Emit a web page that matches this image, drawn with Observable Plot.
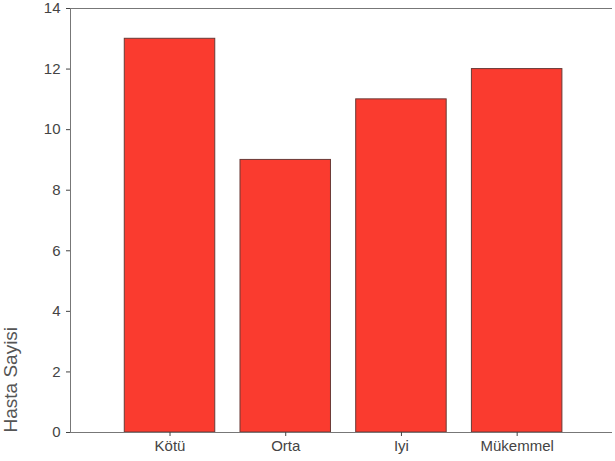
<!DOCTYPE html>
<html>
<head>
<meta charset="utf-8">
<script src="https://cdn.jsdelivr.net/npm/d3@7"></script>
<script src="https://cdn.jsdelivr.net/npm/@observablehq/plot@0.6"></script>
<style>
  html, body { margin: 0; padding: 0; background: #fff; }
  #chart svg { display: block; }
</style>
</head>
<body>
<div id="chart"></div>
<script>
const categories = ["Kötü", "Orta", "Iyi", "Mükemmel"];
const counts = [13, 9, 11, 12];
const yTicks = [0, 2, 4, 6, 8, 10, 12, 14];
const yLabel = "Hasta Sayisi";

const data = categories.map((c, i) => ({category: c, count: counts[i]}));

const chart = Plot.plot({
  width: 615,
  height: 461,
  marginTop: 8,
  marginRight: 3,
  marginBottom: 29,
  marginLeft: 70,
  style: {fontFamily: "'Liberation Sans', Arial, sans-serif", background: "#fff"},
  x: {domain: categories, paddingInner: 0.218, paddingOuter: 0.451, align: 0.52, round: false, label: null},
  y: {domain: [0, 14], ticks: yTicks, label: null},
  marks: [
    Plot.barY(data, {x: "category", y: "count", fill: "#fa3b2f", stroke: "#6a3a36", strokeWidth: 1}),
    Plot.ruleY([0, 14], {stroke: "#777", strokeWidth: 1}),
    Plot.frame({anchor: "left", stroke: "#777"}),
    Plot.axisY({ticks: yTicks, tickSize: 4, tickPadding: 6, fontSize: 15, color: "#444", label: null}),
    Plot.axisX({tickSize: 4, tickPadding: 4, fontSize: 15, color: "#444", label: null}),
    Plot.text([yLabel], {frameAnchor: "bottom-left", text: d => d, rotate: -90, textAnchor: "start", dx: -54, fontSize: 19, fill: "#555"})
  ]
});
document.getElementById("chart").appendChild(chart);
</script>
</body>
</html>
